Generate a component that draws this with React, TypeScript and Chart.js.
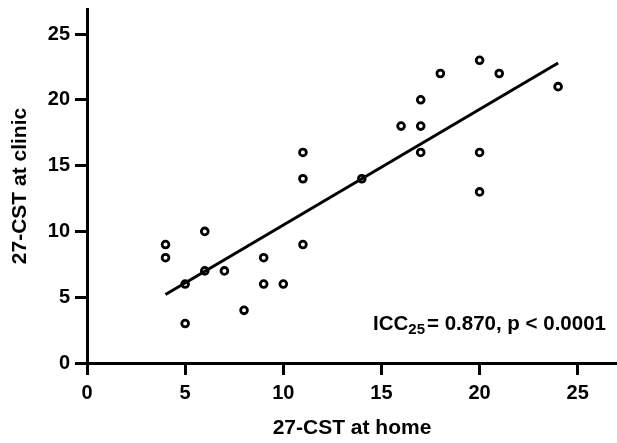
import React, { useEffect, useRef } from "react";
import { Chart, registerables } from "chart.js";

Chart.register(...registerables);

const homeScores = [4, 4, 5, 5, 6, 6, 7, 8, 9, 9, 10, 11, 11, 11, 14, 16, 17, 17, 17, 18, 20, 20, 20, 21, 24];
const clinicScores = [9, 8, 6, 3, 10, 7, 7, 4, 8, 6, 6, 9, 14, 16, 14, 18, 20, 18, 16, 22, 23, 16, 13, 22, 21];
const fitLineX = [4, 24];
const fitLineY = [5.2, 22.8];
const xTicks = [0, 5, 10, 15, 20, 25];
const yTicks = [0, 5, 10, 15, 20, 25];
const xTitle = "27-CST at home";
const yTitle = "27-CST at clinic";
const statMain = "ICC";
const statSub = "25";
const statRest = "= 0.870, p < 0.0001";

const FONT = "'Liberation Sans', Arial, Helvetica, sans-serif";

export default function App() {
  const ref = useRef<HTMLCanvasElement | null>(null);
  useEffect(() => {
    const canvas = ref.current;
    if (!canvas) return;
    const annot = {
      id: "annot",
      afterDraw(chart: any) {
        const ctx = chart.ctx;
        ctx.save();
        ctx.fillStyle = "#000";
        ctx.textBaseline = "alphabetic";
        ctx.textAlign = "left";
        ctx.font = `bold 20.5px ${FONT}`;
        let x = 373;
        const base = 330;
        ctx.fillText(statMain, x, base);
        x += ctx.measureText(statMain).width;
        ctx.font = `bold 15px ${FONT}`;
        ctx.fillText(statSub, x, base + 4);
        x += ctx.measureText(statSub).width + 2;
        ctx.font = `bold 20.5px ${FONT}`;
        ctx.fillText(statRest, x, base);
        ctx.restore();
      },
    };
    const chart = new Chart(canvas, {
      type: "scatter",
      data: {
        datasets: [
          {
            type: "line",
            data: fitLineX.map((x, i) => ({ x, y: fitLineY[i] })),
            borderColor: "#000",
            borderWidth: 3,
            pointRadius: 0,
            fill: false,
          } as any,
          {
            data: homeScores.map((x, i) => ({ x, y: clinicScores[i] })),
            pointRadius: 3.4,
            pointBorderWidth: 2.8,
            borderColor: "#000",
            backgroundColor: "#fff",
          },
        ],
      },
      options: {
        animation: false,
        responsive: false,
        maintainAspectRatio: false,
        layout: { autoPadding: false, padding: { top: 9, right: 0, left: 0, bottom: 0 } },
        plugins: { legend: { display: false }, tooltip: { enabled: false } },
        scales: {
          x: {
            type: "linear",
            min: 0,
            max: 27,
            afterFit: (s: any) => {
              s.height = 80;
              s.paddingLeft = 0;
              s.paddingRight = 0;
            },
            afterBuildTicks: (s: any) => {
              s.ticks = xTicks.map((v) => ({ value: v }));
            },
            ticks: {
              includeBounds: false,
              color: "#000",
              padding: 6,
              font: { family: FONT, size: 20, weight: "bold" },
            },
            grid: {
              drawOnChartArea: false,
              drawTicks: true,
              tickLength: 12,
              tickWidth: 3,
              tickColor: "#000",
            },
            border: { display: true, width: 3, color: "#000" },
            title: {
              display: true,
              text: xTitle,
              color: "#000",
              font: { family: FONT, size: 21, weight: "bold" },
              padding: { top: 0, bottom: 2 },
            },
          },
          y: {
            type: "linear",
            min: 0,
            max: 26.9,
            afterFit: (s: any) => {
              s.width = 87;
              s.paddingTop = 0;
              s.paddingBottom = 0;
            },
            afterBuildTicks: (s: any) => {
              s.ticks = yTicks.map((v) => ({ value: v }));
            },
            ticks: {
              includeBounds: false,
              color: "#000",
              padding: 5,
              font: { family: FONT, size: 20, weight: "bold" },
            },
            grid: {
              drawOnChartArea: false,
              drawTicks: true,
              tickLength: 12,
              tickWidth: 3,
              tickColor: "#000",
            },
            border: { display: true, width: 3, color: "#000" },
            title: {
              display: true,
              text: yTitle,
              color: "#000",
              font: { family: FONT, size: 21, weight: "bold" },
              padding: { top: 8, bottom: 0 },
            },
          },
        },
      } as any,
      plugins: [annot],
    });
    return () => chart.destroy();
  }, []);
  return (
    <div style={{ position: "fixed", left: 0, top: 0, width: 617, height: 443, background: "#fff" }}>
      <canvas ref={ref} width={617} height={443} style={{ width: 617, height: 443, display: "block" }} />
    </div>
  );
}
